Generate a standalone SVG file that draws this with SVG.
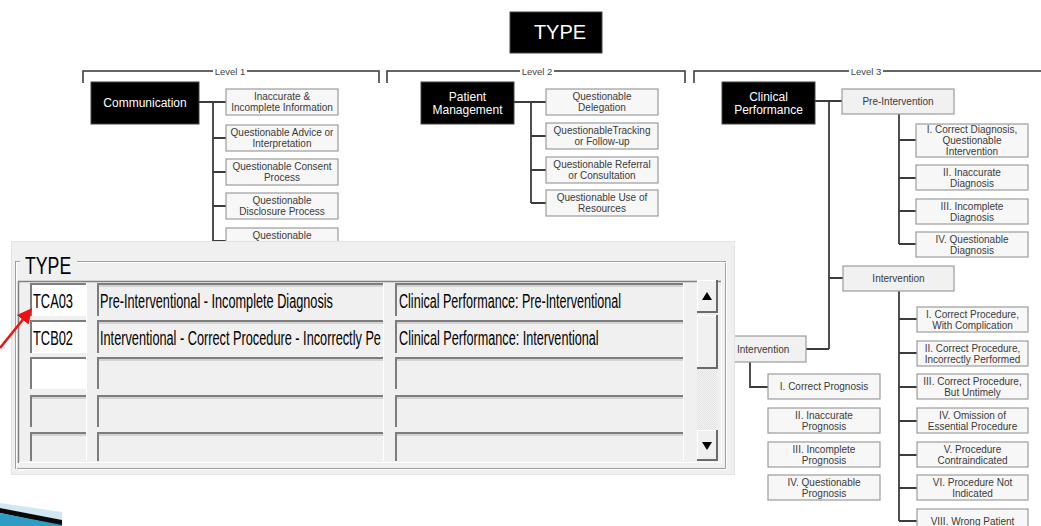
<svg xmlns="http://www.w3.org/2000/svg" width="1041" height="526" viewBox="0 0 1041 526">
<style>
.hd{fill:#000;stroke:#444;stroke-width:1}
.hdt{fill:#fff;font-family:"Liberation Sans",Arial,sans-serif;font-size:12px;text-anchor:middle}
.bx{fill:#f7f7f7;stroke:#9c9c9c;stroke-width:1.2}
.sb{fill:#f1f1f1;stroke:#9c9c9c;stroke-width:1.2}
.t{fill:#3a3a3a;font-family:"Liberation Sans",Arial,sans-serif;font-size:10px;text-anchor:middle}
.lv{fill:#444;font-family:"Liberation Sans",Arial,sans-serif;font-size:9.5px;text-anchor:middle}
.cn{stroke:#3c3c3c;stroke-width:1.8;fill:none}
.br{stroke:#333;stroke-width:1.5;fill:none}
.w{font-family:"Liberation Sans",Arial,sans-serif;font-size:20px;fill:#000}
.cell{fill:#f0f0f0}
.wc{fill:#fff}
.dk{stroke:#7d7d7d;fill:none}
.lt{stroke:#ffffff;fill:none;stroke-width:1}
</style>
<defs>
<pattern id="hatch" width="2" height="2" patternUnits="userSpaceOnUse"><rect width="2" height="2" fill="#f4f4f4"/><rect width="1" height="1" fill="#e2e2e2"/><rect x="1" y="1" width="1" height="1" fill="#e2e2e2"/></pattern>
<marker id="ra" markerWidth="6" markerHeight="6" refX="4" refY="3" orient="auto" markerUnits="strokeWidth"><path d="M0,0 L6,3 L0,6 z" fill="#ee1111"/></marker>
</defs>
<rect width="1041" height="526" fill="#fff"/>

<g id="levels">
<path class="br" d="M83,83 V71 H213 M247,71 H379 V83"/>
<text class="lv" x="230" y="74.5">Level 1</text>
<path class="br" d="M387,83 V71 H520 M554,71 H685 V83"/>
<text class="lv" x="537" y="74.5">Level 2</text>
<path class="br" d="M694,83 V71 H849 M883,71 H1041"/>
<text class="lv" x="866" y="74.5">Level 3</text>
</g>

<g id="connectors">
<path class="cn" d="M199,102 H226 M213,102 V241 M213,138 H226 M213,172 H226 M213,206 H226 M213,241 H226"/>
<path class="cn" d="M514,102 H546 M531,102 V203 M531,136 H546 M531,170 H546 M531,203 H546"/>
<path class="cn" d="M815,101 H842 M829,101 V349 M829,278 H843 M829,349 H806"/>
<path class="cn" d="M899,114 V244 M899,140 H916 M899,178 H916 M899,211 H916 M899,244 H916"/>
<path class="cn" d="M899,291 V521 M899,319 H917 M899,353 H917 M899,387 H917 M899,421 H917 M899,455 H917 M899,488 H917 M899,521 H917"/>
<path class="cn" d="M750,362 V387 H768"/>
</g>

<g id="type"><rect class="hd" x="510" y="12" width="92" height="41"/><text class="hdt" x="560" y="39" style="font-size:20px">TYPE</text></g>

<g id="communication"><rect class="hd" x="91" y="82" width="108" height="42"/><text class="hdt" x="145" y="107">Communication</text></g>
<g id="l1a"><rect class="bx" x="226" y="89" width="112" height="26"/><text class="t" x="282" y="100">Inaccurate &amp;</text><text class="t" x="282" y="111">Incomplete Information</text></g>
<g id="l1b"><rect class="bx" x="226" y="125" width="112" height="26"/><text class="t" x="282" y="136">Questionable Advice or</text><text class="t" x="282" y="147">Interpretation</text></g>
<g id="l1c"><rect class="bx" x="226" y="159" width="112" height="26"/><text class="t" x="282" y="170">Questionable Consent</text><text class="t" x="282" y="181">Process</text></g>
<g id="l1d"><rect class="bx" x="226" y="193" width="112" height="26"/><text class="t" x="282" y="204">Questionable</text><text class="t" x="282" y="215">Disclosure Process</text></g>
<g id="l1e"><rect class="bx" x="226" y="228" width="112" height="26"/><text class="t" x="282" y="239">Questionable</text></g>

<g id="patient"><rect class="hd" x="421" y="82" width="93" height="42"/><text class="hdt" x="467.5" y="101">Patient</text><text class="hdt" x="467.5" y="114">Management</text></g>
<g id="l2a"><rect class="bx" x="546" y="89" width="112" height="26"/><text class="t" x="602" y="100">Questionable</text><text class="t" x="602" y="111">Delegation</text></g>
<g id="l2b"><rect class="bx" x="546" y="123" width="112" height="26"/><text class="t" x="602" y="134">QuestionableTracking</text><text class="t" x="602" y="145">or Follow-up</text></g>
<g id="l2c"><rect class="bx" x="546" y="157" width="112" height="26"/><text class="t" x="602" y="168">Questionable Referral</text><text class="t" x="602" y="179">or Consultation</text></g>
<g id="l2d"><rect class="bx" x="546" y="190" width="112" height="26"/><text class="t" x="602" y="201">Questionable Use of</text><text class="t" x="602" y="212">Resources</text></g>

<g id="clinical"><rect class="hd" x="722" y="82" width="93" height="42"/><text class="hdt" x="768.5" y="101">Clinical</text><text class="hdt" x="768.5" y="114">Performance</text></g>
<g id="preint"><rect class="sb" x="842" y="89" width="112" height="25"/><text class="t" x="898" y="105">Pre-Intervention</text></g>
<g id="d1"><rect class="bx" x="916" y="124" width="112" height="33"/><text class="t" x="972" y="132.5">I. Correct Diagnosis,</text><text class="t" x="972" y="143.5">Questionable</text><text class="t" x="972" y="154.5">Intervention</text></g>
<g id="d2"><rect class="bx" x="916" y="165" width="112" height="25"/><text class="t" x="972" y="175.5">II. Inaccurate</text><text class="t" x="972" y="186.5">Diagnosis</text></g>
<g id="d3"><rect class="bx" x="916" y="199" width="112" height="25"/><text class="t" x="972" y="209.5">III. Incomplete</text><text class="t" x="972" y="220.5">Diagnosis</text></g>
<g id="d4"><rect class="bx" x="916" y="232" width="112" height="25"/><text class="t" x="972" y="242.5">IV. Questionable</text><text class="t" x="972" y="253.5">Diagnosis</text></g>

<g id="interv"><rect class="sb" x="843" y="266" width="111" height="25"/><text class="t" x="898.5" y="282">Intervention</text></g>
<g id="p1"><rect class="bx" x="917" y="307" width="111" height="25"/><text class="t" x="972.5" y="317.5">I. Correct Procedure,</text><text class="t" x="972.5" y="328.5">With Complication</text></g>
<g id="p2"><rect class="bx" x="917" y="341" width="111" height="25"/><text class="t" x="972.5" y="351.5">II. Correct Procedure,</text><text class="t" x="972.5" y="362.5">Incorrectly Performed</text></g>
<g id="p3"><rect class="bx" x="917" y="374" width="111" height="25"/><text class="t" x="972.5" y="384.5">III. Correct Procedure,</text><text class="t" x="972.5" y="395.5">But Untimely</text></g>
<g id="p4"><rect class="bx" x="917" y="408" width="111" height="25"/><text class="t" x="972.5" y="418.5">IV. Omission of</text><text class="t" x="972.5" y="429.5">Essential Procedure</text></g>
<g id="p5"><rect class="bx" x="917" y="442" width="111" height="25"/><text class="t" x="972.5" y="452.5">V. Procedure</text><text class="t" x="972.5" y="463.5">Contraindicated</text></g>
<g id="p6"><rect class="bx" x="917" y="475" width="111" height="25"/><text class="t" x="972.5" y="485.5">VI. Procedure Not</text><text class="t" x="972.5" y="496.5">Indicated</text></g>
<g id="p7"><rect class="bx" x="917" y="509" width="111" height="25"/><text class="t" x="972.5" y="525">VIII. Wrong Patient</text></g>

<g id="postint"><rect class="sb" x="715" y="336" width="91" height="26"/><text class="t" x="737" y="352.5" style="text-anchor:start">Intervention</text></g>
<g id="g1"><rect class="bx" x="768" y="374" width="112" height="25"/><text class="t" x="824" y="390">I. Correct Prognosis</text></g>
<g id="g2"><rect class="bx" x="768" y="408" width="112" height="25"/><text class="t" x="824" y="418.5">II. Inaccurate</text><text class="t" x="824" y="429.5">Prognosis</text></g>
<g id="g3"><rect class="bx" x="768" y="442" width="112" height="25"/><text class="t" x="824" y="452.5">III. Incomplete</text><text class="t" x="824" y="463.5">Prognosis</text></g>
<g id="g4"><rect class="bx" x="768" y="475" width="112" height="25"/><text class="t" x="824" y="485.5">IV. Questionable</text><text class="t" x="824" y="496.5">Prognosis</text></g>

<g id="panel">
<rect x="11" y="241" width="724" height="234" fill="#f0f0f0"/>
<rect x="11.5" y="241.5" width="723" height="233" fill="none" stroke="#e4e4e4"/>
<rect x="15.5" y="261.5" width="710" height="207" fill="none" stroke="#a0a0a0"/>
<rect x="16.5" y="262.5" width="710" height="207" fill="none" stroke="#ffffff"/>
<rect x="20" y="255" width="57" height="12" fill="#f0f0f0"/>
<text class="w" transform="translate(25,274) scale(0.77,1)" style="font-size:23px" textLength="60" lengthAdjust="spacingAndGlyphs">TYPE</text>
<path d="M18.5,463 V281.5 H721" stroke="#808080" stroke-width="1.5" fill="none"/>
<path d="M19,462.5 H721.5 V281" stroke="#ffffff" stroke-width="1" fill="none"/>

<g id="rows">
<rect class="wc" x="30" y="283" width="56" height="33"/><path class="dk" stroke-width="2" d="M31,316 V284 H86"/>
<rect class="cell" x="97" y="283" width="286" height="33"/><path class="dk" stroke-width="2" d="M98,316 V284 H383"/><path class="dk" stroke-width="1" d="M99,286 H383" opacity="0.5"/>
<rect class="cell" x="395" y="283" width="288" height="33"/><path class="dk" stroke-width="2" d="M396,316 V284 H683"/><path class="dk" stroke-width="1" d="M397,286 H683" opacity="0.5"/>

<rect class="wc" x="30" y="320" width="56" height="33"/><path class="dk" stroke-width="2" d="M31,353 V321 H86"/>
<rect class="cell" x="97" y="320" width="286" height="33"/><path class="dk" stroke-width="2" d="M98,353 V321 H383"/><path class="dk" stroke-width="1" d="M99,323 H383" opacity="0.5"/>
<rect class="cell" x="395" y="320" width="288" height="33"/><path class="dk" stroke-width="2" d="M396,353 V321 H683"/><path class="dk" stroke-width="1" d="M397,323 H683" opacity="0.5"/>

<rect class="wc" x="30" y="357" width="56" height="32"/><path class="dk" stroke-width="2" d="M31,389 V358 H86"/>
<rect class="cell" x="97" y="357" width="286" height="32"/><path class="dk" stroke-width="2" d="M98,389 V358 H383"/><path class="dk" stroke-width="1" d="M99,360 H383" opacity="0.5"/>
<rect class="cell" x="395" y="357" width="288" height="32"/><path class="dk" stroke-width="2" d="M396,389 V358 H683"/><path class="dk" stroke-width="1" d="M397,360 H683" opacity="0.5"/>

<rect class="cell" x="30" y="395" width="56" height="32"/><path class="dk" stroke-width="2" d="M31,427 V396 H86"/><path class="dk" stroke-width="1" d="M32,398 H86" opacity="0.5"/>
<rect class="cell" x="97" y="395" width="286" height="32"/><path class="dk" stroke-width="2" d="M98,427 V396 H383"/><path class="dk" stroke-width="1" d="M99,398 H383" opacity="0.5"/>
<rect class="cell" x="395" y="395" width="288" height="32"/><path class="dk" stroke-width="2" d="M396,427 V396 H683"/><path class="dk" stroke-width="1" d="M397,398 H683" opacity="0.5"/>

<rect class="cell" x="30" y="432" width="56" height="29"/><path class="dk" stroke-width="2" d="M31,461 V433 H86"/><path class="dk" stroke-width="1" d="M32,435 H86" opacity="0.5"/>
<rect class="cell" x="97" y="432" width="286" height="29"/><path class="dk" stroke-width="2" d="M98,461 V433 H383"/><path class="dk" stroke-width="1" d="M99,435 H383" opacity="0.5"/>
<rect class="cell" x="395" y="432" width="288" height="29"/><path class="dk" stroke-width="2" d="M396,461 V433 H683"/><path class="dk" stroke-width="1" d="M397,435 H683" opacity="0.5"/>
<path class="lt" d="M86.5,283 V461 M383.5,283 V461 M683.5,283 V461"/>
</g>

<g id="celltext">
<text class="w" transform="translate(33,308) scale(0.64,1)" textLength="62.5" lengthAdjust="spacingAndGlyphs">TCA03</text>
<text class="w" transform="translate(100,308) scale(0.64,1)" textLength="364" lengthAdjust="spacingAndGlyphs">Pre-Interventional - Incomplete Diagnosis</text>
<text class="w" transform="translate(399,308) scale(0.64,1)" textLength="347" lengthAdjust="spacingAndGlyphs">Clinical Performance: Pre-Interventional</text>
<text class="w" transform="translate(33,345) scale(0.64,1)" textLength="62.5" lengthAdjust="spacingAndGlyphs">TCB02</text>
<text class="w" transform="translate(100,345) scale(0.64,1)" textLength="439" lengthAdjust="spacingAndGlyphs">Interventional - Correct Procedure - Incorrectly Pe</text>
<text class="w" transform="translate(399,345) scale(0.64,1)" textLength="312" lengthAdjust="spacingAndGlyphs">Clinical Performance: Interventional</text>
</g>

<g id="scrollbar">
<rect x="697" y="312" width="20" height="120" fill="url(#hatch)"/>
<rect x="697" y="280" width="20" height="32" fill="#f0f0f0"/>
<path d="M697.5,311.5 V280.5 H716.5" stroke="#ffffff" fill="none"/>
<path d="M697,312 H717 V280" stroke="#6a6a6a" stroke-width="2" fill="none"/>
<path d="M702,300 L707,292 L712,300 Z" fill="#000"/>
<rect x="697" y="315" width="20" height="53" fill="#f0f0f0"/>
<path d="M697.5,367.5 V315.5 H716.5" stroke="#ffffff" fill="none"/>
<path d="M697,368 H717 V315" stroke="#6a6a6a" stroke-width="2" fill="none"/>
<rect x="697" y="430" width="20" height="30" fill="#f0f0f0"/>
<path d="M697.5,459.5 V430.5 H716.5" stroke="#ffffff" fill="none"/>
<path d="M697,460 H717 V430" stroke="#6a6a6a" stroke-width="2" fill="none"/>
<path d="M702,442 L712,442 L707,450 Z" fill="#000"/>
</g>
</g>

<g id="redarrow"><path d="M0,348 L29,312" stroke="#ee1111" stroke-width="2.5" fill="none" marker-end="url(#ra)"/></g>

<g id="bullet">
<polygon points="0,503 62,512 62,520 0,508" fill="#cfe8f1"/>
<polygon points="0,508 62,520 62,526 0,513" fill="#0a0a0a"/>
<polygon points="0,513 62,525 62,526 0,526" fill="#2f9cc5"/>
</g>
</svg>
